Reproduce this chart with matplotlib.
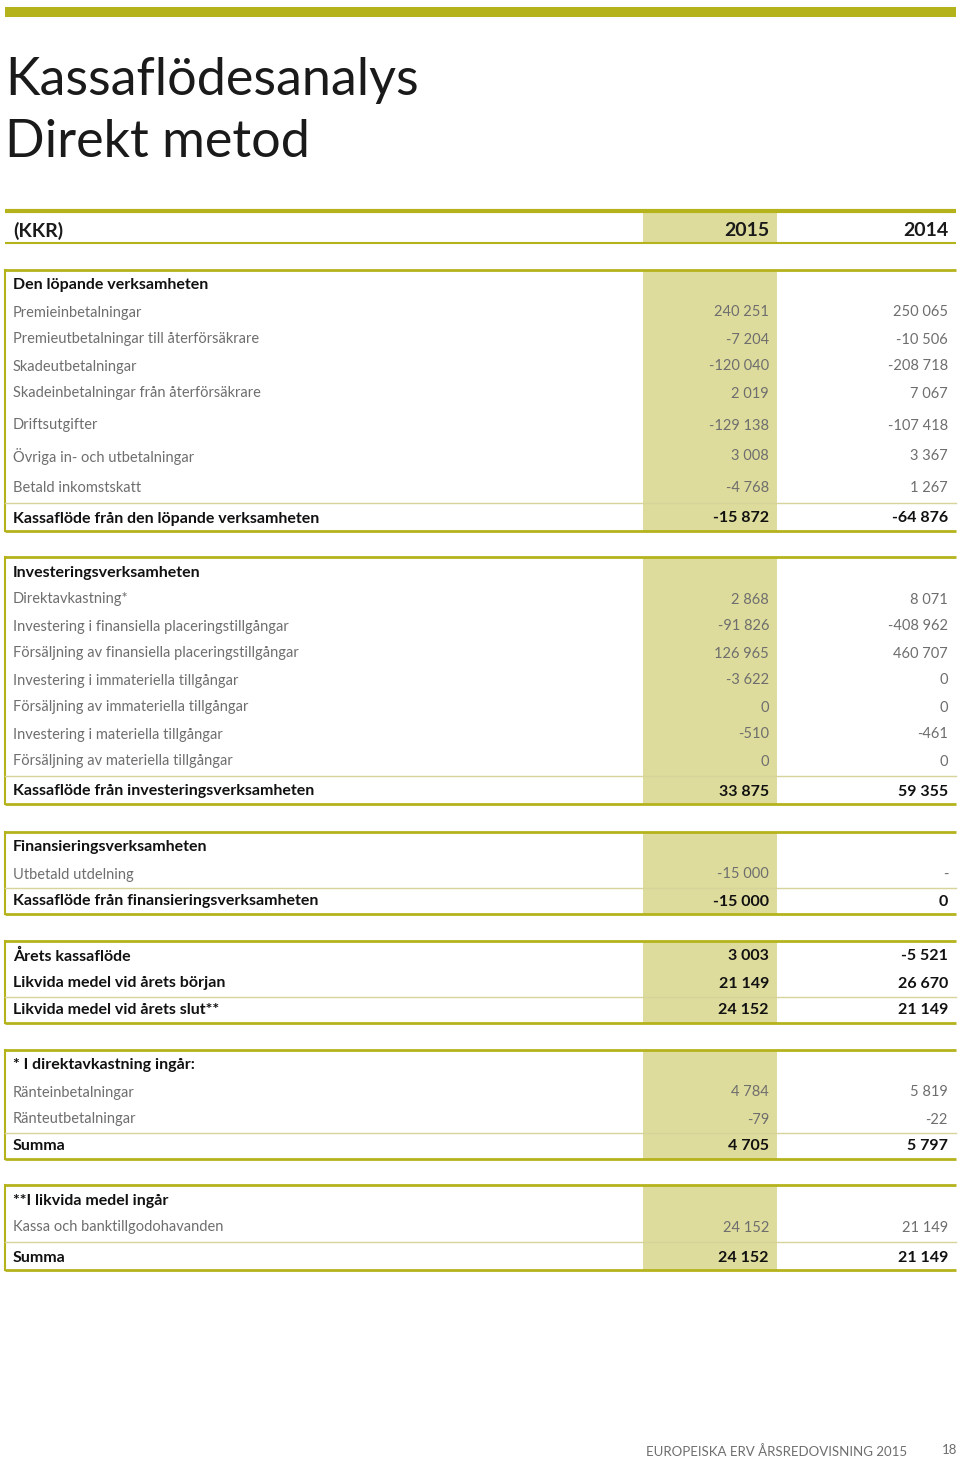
import matplotlib
matplotlib.use("Agg")
import matplotlib.pyplot as plt
from matplotlib.patches import Rectangle

plt.rcParams['font.family'] = ['Lato', 'DejaVu Sans']

OLIVE = '#b5b31c'
SHADE = '#dedc9c'
GREY = '#6e6e6e'

# --- data ---
sec1_labels = ["Den löpande verksamheten", "Premieinbetalningar", "Premieutbetalningar till återförsäkrare",
               "Skadeutbetalningar", "Skadeinbetalningar från återförsäkrare", "Driftsutgifter",
               "Övriga in- och utbetalningar", "Betald inkomstskatt", "Kassaflöde från den löpande verksamheten"]
sec1_2015 = ["", "240 251", "-7 204", "-120 040", "2 019", "-129 138", "3 008", "-4 768", "-15 872"]
sec1_2014 = ["", "250 065", "-10 506", "-208 718", "7 067", "-107 418", "3 367", "1 267", "-64 876"]

sec2_labels = ["Investeringsverksamheten", "Direktavkastning*", "Investering i finansiella placeringstillgångar",
               "Försäljning av finansiella placeringstillgångar", "Investering i immateriella tillgångar",
               "Försäljning av immateriella tillgångar", "Investering i materiella tillgångar",
               "Försäljning av materiella tillgångar", "Kassaflöde från investeringsverksamheten"]
sec2_2015 = ["", "2 868", "-91 826", "126 965", "-3 622", "0", "-510", "0", "33 875"]
sec2_2014 = ["", "8 071", "-408 962", "460 707", "0", "0", "-461", "0", "59 355"]

sec3_labels = ["Finansieringsverksamheten", "Utbetald utdelning", "Kassaflöde från finansieringsverksamheten"]
sec3_2015 = ["", "-15 000", "-15 000"]
sec3_2014 = ["", "-", "0"]

sec4_labels = ["Årets kassaflöde", "Likvida medel vid årets början", "Likvida medel vid årets slut**"]
sec4_2015 = ["3 003", "21 149", "24 152"]
sec4_2014 = ["-5 521", "26 670", "21 149"]

sec5_labels = ["* I direktavkastning ingår:", "Ränteinbetalningar", "Ränteutbetalningar", "Summa"]
sec5_2015 = ["", "4 784", "-79", "4 705"]
sec5_2014 = ["", "5 819", "-22", "5 797"]

sec6_labels = ["**I likvida medel ingår", "Kassa och banktillgodohavanden", "Summa"]
sec6_2015 = ["", "24 152", "24 152"]
sec6_2014 = ["", "21 149", "21 149"]

# layout per section: top line y, row gaps, bold rows, rows with a thin line above
sections = [
    (sec1_labels, sec1_2015, sec1_2014, 270, [14, 27, 27, 27, 27, 32, 31, 31, 31], [0, 8], [8]),
    (sec2_labels, sec2_2015, sec2_2014, 557, [14, 27, 27, 27, 27, 27, 27, 27, 30], [0, 8], [8]),
    (sec3_labels, sec3_2015, sec3_2014, 832, [14, 27, 27], [0, 2], [2]),
    (sec4_labels, sec4_2015, sec4_2014, 941, [14, 27, 27], [0, 1, 2], [2]),
    (sec5_labels, sec5_2015, sec5_2014, 1050, [14, 27, 27, 27], [0, 3], [3]),
    (sec6_labels, sec6_2015, sec6_2014, 1185, [14, 27, 30], [0, 2], [2]),
]

W, H = 960, 1457
fig = plt.figure(figsize=(W / 100, H / 100), dpi=100)
ax = fig.add_axes([0, 0, 1, 1])
ax.set_xlim(0, W)
ax.set_ylim(H, 0)
ax.axis('off')

x0, x1 = 5, 956
c15_l, c15_r = 643, 777
lab_x, v15_x, v14_x = 13, 769, 948
dy = 1.5  # text sits a touch below the row centre

# top bar and title
ax.add_patch(Rectangle((x0, 7), x1 - x0, 10, color=OLIVE, lw=0))
ax.text(5, 95, "Kassaflödesanalys", fontsize=37.5, color='#1a1a1a', va='baseline')
ax.text(5, 157, "Direkt metod", fontsize=37.5, color='#1a1a1a', va='baseline')

# header
ax.add_patch(Rectangle((c15_l, 212), c15_r - c15_l, 31, color=SHADE, lw=0))
ax.plot([x0, x1], [211, 211], color=OLIVE, lw=3, solid_capstyle='butt')
ax.plot([x0, x1], [243, 243], color=OLIVE, lw=1.5, solid_capstyle='butt')
ax.text(lab_x, 229 + dy, "(KKR)", fontsize=14, fontweight='bold', color='#1a1a1a', va='center')
ax.text(v15_x, 229 + dy, "2015", fontsize=14, fontweight='bold', color='#1a1a1a', va='center', ha='right')
ax.text(v14_x, 229 + dy, "2014", fontsize=14, fontweight='bold', color='#1a1a1a', va='center', ha='right')

for labels, v15, v14, top, gaps, bold, thin in sections:
    ys = []
    y = top
    for g in gaps:
        y += g
        ys.append(y)
    bottom = ys[-1] + 14
    ax.add_patch(Rectangle((c15_l, top), c15_r - c15_l, bottom - top, color=SHADE, lw=0))
    ax.plot([x0, x1], [top, top], color=OLIVE, lw=2, solid_capstyle='butt')
    ax.plot([x0, x1], [bottom, bottom], color=OLIVE, lw=2, solid_capstyle='butt')
    ax.plot([x0, x0], [top, bottom], color=OLIVE, lw=1.5)
    for i in thin:
        yl = (ys[i - 1] + ys[i]) / 2 + 1
        ax.plot([x0, x1], [yl, yl], color='#d6d49a', lw=1)
    for i, (lab, a, b) in enumerate(zip(labels, v15, v14)):
        if i in bold:
            kw = dict(fontweight='bold', color='#111111', fontsize=11.5)
        else:
            kw = dict(fontweight='normal', color=GREY, fontsize=10.5)
        ax.text(lab_x, ys[i] + dy, lab, va='center', **kw)
        ax.text(v15_x, ys[i] + dy, a, va='center', ha='right', **kw)
        ax.text(v14_x, ys[i] + dy, b, va='center', ha='right', **kw)

# footer
ax.text(907, 1452, "EUROPEISKA ERV ÅRSREDOVISNING 2015", fontsize=9.5, color=GREY,
        ha='right', va='center')
ax.text(957, 1450, "18", fontsize=9.5, color=GREY, ha='right', va='center')

fig.savefig("out.png", dpi=100)
